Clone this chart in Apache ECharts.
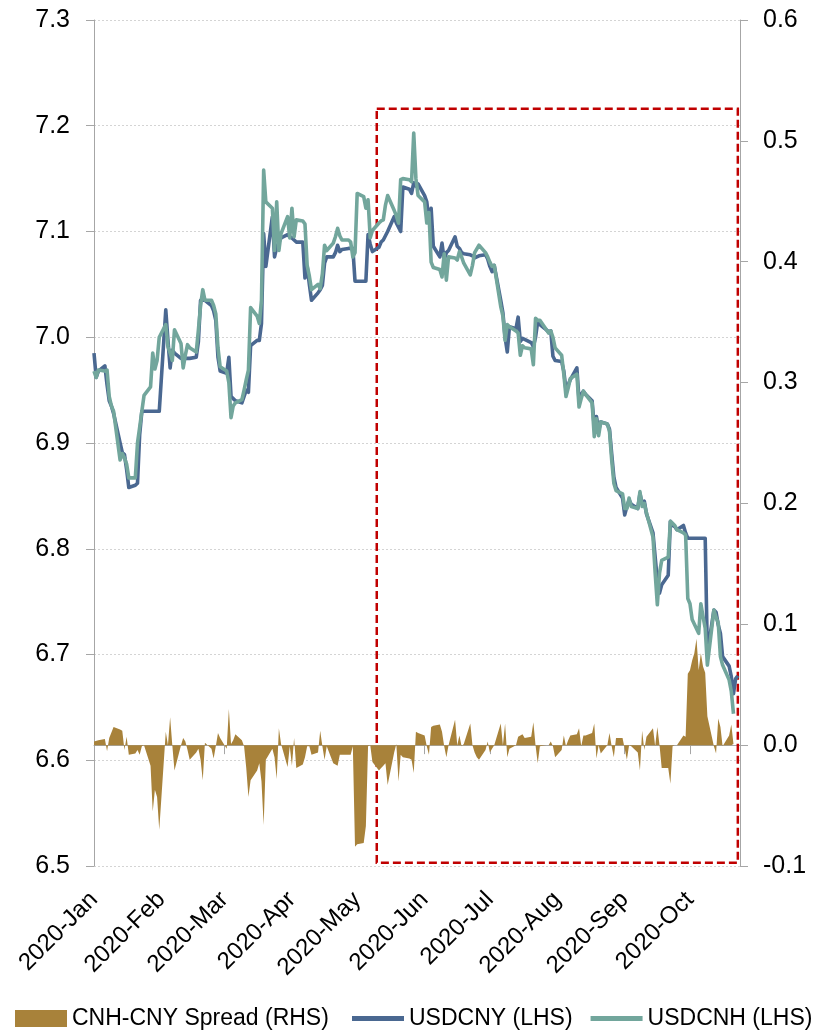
<!DOCTYPE html>
<html>
<head>
<meta charset="utf-8">
<script src="https://cdn.jsdelivr.net/npm/echarts@6/dist/echarts.min.js"></script>
<style>
  html, body { margin: 0; padding: 0; background: #ffffff; }
  #chart { width: 813px; height: 1031px; }
</style>
</head>
<body>
<div id="chart"></div>
<script>
// ---- data -------------------------------------------------------------
const monthNames = ['Jan','Feb','Mar','Apr','May','Jun','Jul','Aug','Sep','Oct','Nov','Dec'];
const firstDay = '2020-01-01';
const lastDay = '2020-10-24';

const leftTicks = { min: 6.5, max: 7.3, step: 0.1 };
const rightTicks = { min: -0.1, max: 0.6, step: 0.1 };

// onshore close (MM-DD, value)
const usdcny = [
  ['01-01',6.985],['01-02',6.962],['01-03',6.968],['01-06',6.973],['01-07',6.955],['01-08',6.940],['01-09',6.935],['01-10',6.928],
  ['01-13',6.900],['01-14',6.891],['01-15',6.889],['01-16',6.875],['01-17',6.858],['01-20',6.860],['01-21',6.862],['01-22',6.908],
  ['01-23',6.930],['01-31',6.930],
  ['02-03',7.026],['02-04',6.997],['02-05',6.971],['02-06',6.988],['02-07',6.985],['02-10',6.980],['02-14',6.980],['02-17',6.981],
  ['02-18',6.996],['02-19',7.035],['02-21',7.035],['02-24',7.030],['02-25',7.025],['02-26',7.016],['02-27',6.981],['02-28',6.968],
  ['03-02',6.966],['03-03',6.981],['03-04',6.944],['03-05',6.942],['03-06',6.940],['03-09',6.938],['03-10',6.944],['03-11',6.950],
  ['03-12',6.948],['03-13',6.992],['03-16',6.997],['03-17',6.997],['03-18',7.013],['03-19',7.098],['03-20',7.067],['03-23',7.114],
  ['03-24',7.076],['03-25',7.085],['03-26',7.090],['03-27',7.094],['03-30',7.097],['03-31',7.095],
  ['04-01',7.094],['04-02',7.092],['04-03',7.090],['04-06',7.090],['04-07',7.056],['04-08',7.067],['04-09',7.050],['04-10',7.035],
  ['04-13',7.042],['04-14',7.045],['04-15',7.049],['04-16',7.070],['04-17',7.076],['04-20',7.076],['04-21',7.080],['04-22',7.087],
  ['04-23',7.081],['04-24',7.083],['04-27',7.084],['04-28',7.084],['04-29',7.084],['04-30',7.053],
  ['05-05',7.053],['05-06',7.097],['05-07',7.088],['05-08',7.081],['05-11',7.085],['05-12',7.090],['05-13',7.092],['05-14',7.096],
  ['05-15',7.100],['05-18',7.114],['05-19',7.108],['05-20',7.104],['05-21',7.100],['05-22',7.142],['05-25',7.140],['05-26',7.136],
  ['05-27',7.146],['05-28',7.143],['05-29',7.145],
  ['06-01',7.134],['06-02',7.128],['06-03',7.111],['06-04',7.122],['06-05',7.086],['06-08',7.076],['06-09',7.089],['06-10',7.073],
  ['06-11',7.080],['06-12',7.082],['06-15',7.095],['06-16',7.086],['06-17',7.084],['06-18',7.080],['06-19',7.079],['06-22',7.078],
  ['06-23',7.077],['06-24',7.075],['06-26',7.077],['06-29',7.078],['06-30',7.074],
  ['07-01',7.067],['07-02',7.062],['07-03',7.068],['07-06',7.035],['07-07',7.023],['07-08',7.000],['07-09',6.986],['07-10',7.010],
  ['07-13',7.008],['07-14',7.019],['07-15',6.996],['07-16',6.999],['07-17',6.998],['07-20',6.995],['07-21',6.991],['07-22',7.000],
  ['07-23',7.015],['07-24',7.012],['07-27',7.007],['07-28',7.005],['07-29',7.006],['07-30',6.982],['07-31',6.978],
  ['08-03',6.977],['08-04',6.968],['08-05',6.950],['08-06',6.955],['08-07',6.960],['08-10',6.971],['08-11',6.940],['08-12',6.946],
  ['08-13',6.949],['08-14',6.946],['08-17',6.940],['08-18',6.915],['08-19',6.925],['08-20',6.912],['08-21',6.920],['08-24',6.918],
  ['08-25',6.913],['08-26',6.890],['08-27',6.868],['08-28',6.858],['08-31',6.848],
  ['09-01',6.832],['09-02',6.840],['09-03',6.846],['09-04',6.842],['09-07',6.838],['09-08',6.852],['09-09',6.843],['09-10',6.845],
  ['09-11',6.833],['09-14',6.815],['09-15',6.792],['09-16',6.770],['09-17',6.758],['09-18',6.766],['09-21',6.775],['09-22',6.826],
  ['09-23',6.822],['09-24',6.821],['09-25',6.818],['09-28',6.822],['09-29',6.815],['09-30',6.810],
  ['10-08',6.810],['10-09',6.701],['10-12',6.742],['10-13',6.740],['10-14',6.728],['10-15',6.720],['10-16',6.698],['10-19',6.689],
  ['10-20',6.679],['10-21',6.663],['10-22',6.677],['10-23',6.680]
];

// offshore close (MM-DD, value)
const usdcnh = [
  ['01-01',6.968],['01-02',6.962],['01-03',6.969],['01-06',6.968],['01-07',6.969],['01-08',6.944],['01-09',6.935],['01-10',6.930],
  ['01-13',6.884],['01-14',6.890],['01-15',6.886],['01-16',6.880],['01-17',6.867],['01-20',6.867],['01-21',6.900],['01-22',6.915],
  ['01-23',6.930],['01-24',6.945],['01-27',6.953],['01-28',6.985],['01-29',6.970],['01-30',6.978],['01-31',7.000],
  ['02-03',7.012],['02-04',6.991],['02-05',6.985],['02-06',6.978],['02-07',7.007],['02-10',6.994],['02-11',6.971],['02-12',6.983],
  ['02-13',6.993],['02-14',6.990],['02-17',6.986],['02-18',7.007],['02-19',7.030],['02-20',7.045],['02-21',7.035],['02-24',7.035],
  ['02-25',7.030],['02-26',7.022],['02-27',6.990],['02-28',6.972],
  ['03-02',6.968],['03-03',6.957],['03-04',6.924],['03-05',6.935],['03-06',6.938],['03-09',6.941],['03-10',6.950],['03-11',6.960],
  ['03-12',6.969],['03-13',7.028],['03-16',7.020],['03-17',7.013],['03-18',7.035],['03-19',7.158],['03-20',7.128],['03-23',7.122],
  ['03-24',7.082],['03-25',7.128],['03-26',7.082],['03-27',7.098],['03-30',7.114],['03-31',7.094],
  ['04-01',7.122],['04-02',7.095],['04-03',7.111],['04-06',7.110],['04-07',7.107],['04-08',7.068],['04-09',7.058],['04-10',7.045],
  ['04-13',7.050],['04-14',7.046],['04-15',7.060],['04-16',7.087],['04-17',7.082],['04-20',7.089],['04-21',7.095],['04-22',7.103],
  ['04-23',7.096],['04-24',7.092],['04-27',7.092],['04-28',7.090],['04-29',7.076],['04-30',7.080],
  ['05-01',7.136],['05-04',7.133],['05-05',7.122],['05-06',7.130],['05-07',7.094],['05-08',7.101],['05-11',7.108],['05-12',7.110],
  ['05-13',7.111],['05-14',7.125],['05-15',7.134],['05-18',7.120],['05-19',7.115],['05-20',7.108],['05-21',7.149],['05-22',7.150],
  ['05-25',7.149],['05-26',7.147],['05-27',7.193],['05-28',7.150],['05-29',7.134],
  ['06-01',7.128],['06-02',7.108],['06-03',7.118],['06-04',7.071],['06-05',7.066],['06-08',7.064],['06-09',7.057],['06-10',7.079],
  ['06-11',7.054],['06-12',7.076],['06-15',7.075],['06-16',7.073],['06-17',7.081],['06-18',7.076],['06-19',7.070],['06-22',7.059],
  ['06-23',7.068],['06-24',7.080],['06-26',7.087],['06-29',7.080],['06-30',7.076],
  ['07-01',7.071],['07-02',7.067],['07-03',7.068],['07-06',7.029],['07-07',7.020],['07-08',6.997],['07-09',7.012],['07-10',7.010],
  ['07-13',7.006],['07-14',7.004],['07-15',6.983],['07-16',6.992],['07-17',6.990],['07-20',6.989],['07-21',6.974],['07-22',7.018],
  ['07-23',7.016],['07-24',7.016],['07-27',7.007],['07-28',7.004],['07-29',7.006],['07-30',7.000],['07-31',6.990],
  ['08-03',6.983],['08-04',6.965],['08-05',6.944],['08-06',6.952],['08-07',6.961],['08-10',6.965],['08-11',6.934],['08-12',6.942],
  ['08-13',6.949],['08-14',6.946],['08-17',6.938],['08-18',6.906],['08-19',6.923],['08-20',6.907],['08-21',6.920],['08-24',6.918],
  ['08-25',6.911],['08-26',6.884],['08-27',6.862],['08-28',6.855],['08-31',6.852],
  ['09-01',6.838],['09-02',6.838],['09-03',6.848],['09-04',6.840],['09-07',6.838],['09-08',6.854],['09-09',6.840],['09-10',6.843],
  ['09-11',6.834],['09-14',6.811],['09-15',6.777],['09-16',6.747],['09-17',6.777],['09-18',6.789],['09-21',6.792],['09-22',6.826],
  ['09-23',6.824],['09-24',6.822],['09-25',6.818],['09-28',6.815],['09-29',6.813],['09-30',6.753],
  ['10-01',6.748],['10-02',6.733],['10-05',6.720],['10-06',6.748],['10-07',6.736],['10-08',6.725],['10-09',6.690],['10-12',6.742],
  ['10-13',6.735],['10-14',6.730],['10-15',6.698],['10-16',6.690],['10-19',6.676],['10-20',6.665],['10-21',6.644]
];

// CNH minus CNY (MM-DD, value)
const cnhCnySpread = [
  ['01-01',0.003],['01-03',0.004],['01-06',0.005],['01-07',-0.005],['01-08',0.006],['01-10',0.015],['01-13',0.013],['01-14',0.012],
  ['01-15',-0.004],['01-16',0.007],['01-17',-0.008],['01-20',-0.007],['01-21',-0.004],['01-22',-0.008],['01-23',-0.001],['01-24',0.000],
  ['01-27',-0.017],['01-28',-0.055],['01-29',-0.037],['01-30',-0.043],['01-31',-0.070],
  ['02-03',0.011],['02-04',0.000],['02-05',0.023],['02-06',0.000],['02-07',-0.021],['02-10',0.000],['02-11',0.006],['02-12',0.003],
  ['02-13',-0.004],['02-14',-0.012],['02-17',-0.006],['02-18',-0.003],['02-19',-0.012],['02-20',-0.029],['02-21',0.002],['02-24',-0.003],
  ['02-25',-0.011],['02-26',-0.001],['02-27',0.010],['02-28',0.006],
  ['03-02',-0.003],['03-03',0.030],['03-04',0.001],['03-05',0.004],['03-06',0.009],['03-09',0.004],['03-10',-0.001],['03-11',-0.019],
  ['03-12',-0.043],['03-13',-0.029],['03-16',-0.021],['03-17',-0.015],['03-18',-0.030],['03-19',-0.066],['03-20',-0.012],['03-23',-0.003],
  ['03-24',-0.010],['03-25',-0.028],['03-26',0.014],['03-27',0.001],['03-30',-0.018],['03-31',-0.001],
  ['04-01',-0.017],['04-02',0.006],['04-03',-0.019],['04-06',-0.016],['04-07',-0.010],['04-08',-0.001],['04-09',-0.001],['04-10',-0.008],
  ['04-13',-0.006],['04-14',0.012],['04-15',-0.001],['04-16',-0.012],['04-17',-0.001],['04-20',-0.015],['04-21',-0.016],['04-22',-0.017],
  ['04-23',-0.008],['04-24',-0.008],['04-27',-0.008],['04-28',-0.008],['04-29',-0.001],['04-30',-0.084],
  ['05-01',-0.082],['05-04',-0.081],['05-05',-0.067],['05-06',-0.001],['05-07',0.000],['05-08',-0.014],['05-11',-0.021],['05-12',-0.019],
  ['05-13',-0.017],['05-14',-0.015],['05-15',-0.033],['05-18',-0.006],['05-19',0.001],['05-20',-0.030],['05-21',-0.008],['05-22',-0.010],
  ['05-25',-0.011],['05-26',-0.012],['05-27',-0.023],['05-28',0.011],['05-29',0.010],
  ['06-01',0.008],['06-02',-0.001],['06-03',-0.008],['06-04',0.015],['06-05',0.016],['06-08',0.017],['06-09',0.011],['06-10',-0.001],
  ['06-11',-0.010],['06-12',0.000],['06-15',0.021],['06-16',0.000],['06-17',0.008],['06-18',-0.001],['06-19',0.001],['06-22',0.018],
  ['06-23',0.000],['06-24',-0.006],['06-25',-0.010],['06-26',-0.012],['06-29',-0.004],['06-30',0.003],
  ['07-01',-0.006],['07-02',-0.003],['07-03',0.000],['07-06',0.018],['07-07',0.000],['07-08',0.018],['07-09',-0.010],['07-10',-0.003],
  ['07-13',0.000],['07-14',0.007],['07-15',0.008],['07-16',0.009],['07-17',0.006],['07-20',0.007],['07-21',0.019],['07-22',0.000],
  ['07-23',-0.015],['07-24',-0.001],['07-27',0.000],['07-28',0.000],['07-29',0.003],['07-30',-0.001],['07-31',-0.010],
  ['08-03',-0.004],['08-04',0.008],['08-05',-0.001],['08-06',0.004],['08-07',0.008],['08-10',0.009],['08-11',0.014],['08-12',-0.001],
  ['08-13',0.008],['08-14',0.008],['08-17',0.010],['08-18',0.018],['08-19',-0.011],['08-20',0.000],['08-21',-0.007],['08-24',0.000],
  ['08-25',0.010],['08-26',-0.001],['08-27',-0.010],['08-28',0.006],['08-31',0.006],
  ['09-01',-0.003],['09-02',-0.012],['09-03',0.000],['09-04',-0.001],['09-07',-0.006],['09-08',-0.021],['09-09',0.012],['09-10',-0.004],
  ['09-11',0.007],['09-14',0.014],['09-15',-0.001],['09-16',0.015],['09-17',0.000],['09-18',-0.019],['09-21',-0.019],['09-22',-0.032],
  ['09-23',-0.001],['09-24',0.000],['09-25',0.000],['09-28',0.008],['09-29',0.007],['09-30',0.059],
  ['10-01',0.062],['10-02',0.070],['10-03',0.076],['10-04',0.088],['10-05',0.062],['10-06',0.076],['10-07',0.065],['10-08',0.060],
  ['10-09',0.024],['10-12',-0.001],['10-13',-0.007],['10-14',0.022],['10-15',0.015],['10-16',-0.001],['10-19',0.008],['10-20',0.017],
  ['10-21',0.001]
];

// period framed by the dashed box (dates and left-axis levels)
const focusWindow = { from: '2020-05-10', to: '2020-10-23', upper: 7.216, lower: 6.503 };

const seriesNames = ['CNH-CNY Spread (RHS)', 'USDCNY (LHS)', 'USDCNH (LHS)'];

// ---- helpers ----------------------------------------------------------
const calendarDays = [];
for (let t = Date.parse(firstDay + 'T00:00:00Z'); t <= Date.parse(lastDay + 'T00:00:00Z'); t += 86400000) {
  calendarDays.push(new Date(t).toISOString().slice(0, 10));
}
const withYear = rows => rows.map(([md, v]) => ['2020-' + md, v]);
const isMonthStart = (i, v) => v.slice(8) === '01';
const fmt1 = v => (Math.abs(v) < 1e-9 ? '0.0' : v.toFixed(1));

const FONT = '"Liberation Sans", Arial, sans-serif';
const AXIS_GREY = '#A6A6A6';
const GOLD = '#A8823A';
const NAVY = '#4A6891';
const TEAL = '#72A69C';

const legendText = { fontSize: 23, color: '#000', fontFamily: FONT };

const chart = echarts.init(document.getElementById('chart'), null, { renderer: 'canvas' });

chart.setOption({
  animation: false,
  backgroundColor: '#ffffff',
  textStyle: { fontFamily: FONT, color: '#000' },
  grid: { left: 94, right: 73, top: 20, bottom: 165, containLabel: false, outerBoundsMode: 'none' },
  legend: [
    {
      left: 10,
      top: 1002,
      itemWidth: 52,
      itemHeight: 17,
      textStyle: legendText,
      data: [{ name: seriesNames[0], icon: 'rect' }]
    },
    {
      left: 347,
      top: 1002,
      itemWidth: 52,
      itemHeight: 5,
      itemGap: 18,
      width: 466,
      textStyle: legendText,
      data: [
        { name: seriesNames[1], icon: 'rect' },
        { name: seriesNames[2], icon: 'rect' }
      ]
    }
  ],
  xAxis: {
    type: 'category',
    data: calendarDays,
    boundaryGap: false,
    axisLine: { show: true, lineStyle: { color: AXIS_GREY, width: 1 } },
    axisTick: { show: true, interval: isMonthStart, length: 9, lineStyle: { color: AXIS_GREY } },
    axisLabel: {
      interval: isMonthStart,
      rotate: 45,
      margin: 30,
      fontSize: 24,
      color: '#000',
      fontFamily: FONT,
      formatter: v => v.slice(0, 4) + '-' + monthNames[+v.slice(5, 7) - 1]
    },
    splitLine: { show: false }
  },
  yAxis: [
    {
      type: 'value',
      position: 'left',
      min: leftTicks.min,
      max: leftTicks.max,
      interval: leftTicks.step,
      axisLine: { show: true, lineStyle: { color: AXIS_GREY, width: 1 } },
      axisTick: { show: true, length: 8, lineStyle: { color: AXIS_GREY } },
      axisLabel: { fontSize: 25, color: '#000', margin: 24, fontFamily: FONT, formatter: fmt1 },
      splitLine: { show: true, lineStyle: { color: '#D4D4D4', type: [2, 2], width: 1 } }
    },
    {
      type: 'value',
      position: 'right',
      min: rightTicks.min,
      max: rightTicks.max,
      interval: rightTicks.step,
      axisLine: { show: true, lineStyle: { color: AXIS_GREY, width: 1 } },
      axisTick: { show: true, length: 8, lineStyle: { color: AXIS_GREY } },
      axisLabel: { fontSize: 25, color: '#000', margin: 23, fontFamily: FONT, formatter: fmt1 },
      splitLine: { show: false }
    }
  ],
  series: [
    {
      name: seriesNames[0],
      type: 'line',
      yAxisIndex: 1,
      data: withYear(cnhCnySpread),
      symbol: 'none',
      lineStyle: { width: 0, color: GOLD },
      itemStyle: { color: GOLD },
      areaStyle: { color: GOLD, opacity: 1, origin: 0 },
      z: 1
    },
    {
      name: seriesNames[1],
      type: 'line',
      yAxisIndex: 0,
      data: withYear(usdcny),
      symbol: 'none',
      lineStyle: { width: 3.6, color: NAVY, join: 'round' },
      itemStyle: { color: NAVY },
      z: 2
    },
    {
      name: seriesNames[2],
      type: 'line',
      yAxisIndex: 0,
      data: withYear(usdcnh),
      symbol: 'none',
      lineStyle: { width: 3.6, color: TEAL, join: 'round' },
      itemStyle: { color: TEAL },
      z: 3,
      markArea: {
        silent: true,
        label: { show: false },
        itemStyle: {
          color: 'rgba(0,0,0,0)',
          borderColor: '#C00000',
          borderWidth: 2.5,
          borderType: [8, 4]
        },
        data: [[
          { xAxis: focusWindow.from, yAxis: focusWindow.upper },
          { xAxis: focusWindow.to, yAxis: focusWindow.lower }
        ]]
      }
    }
  ]
});
</script>
</body>
</html>
